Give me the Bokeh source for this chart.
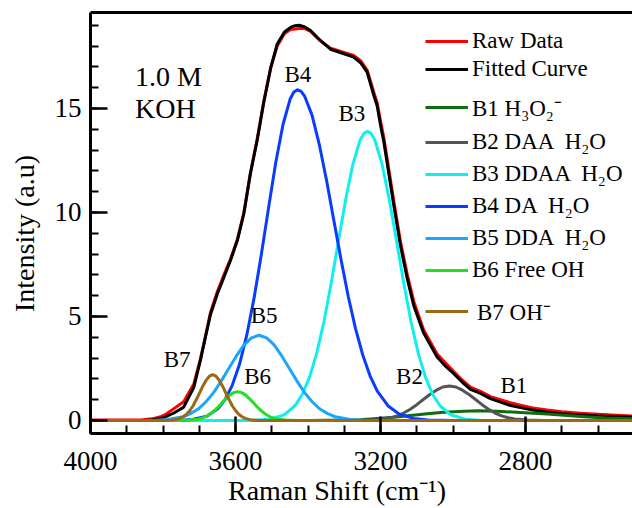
import math
from bokeh.plotting import figure
from bokeh.models import (Range1d, SingleIntervalTicker, LinearAxis, FixedTicker,
                          Legend, LegendItem)
from bokeh.core.properties import value
from bokeh.embed import file_html
from bokeh.resources import INLINE

FONT = "Liberation Serif"

# ---------------- data ----------------
raw_x = [4000, 3860, 3830, 3807, 3790, 3770, 3743, 3715, 3697, 3683,
         3669, 3650, 3632, 3614, 3595, 3577, 3559, 3540, 3522, 3503,
         3485, 3465, 3448, 3425, 3410, 3393, 3366, 3338, 3301, 3274,
         3255, 3237, 3218, 3209, 3200, 3191, 3181, 3163, 3145, 3126,
         3108, 3081, 3044, 3020, 2998, 2975, 2952, 2924, 2897, 2869,
         2841, 2814, 2780, 2740, 2700, 2648, 2600, 2550, 2505]
raw_y = [0.02, 0.03, 0.08, 0.18, 0.32, 0.57, 0.9, 1.75, 2.95, 4.05,
         5.2, 6.2, 7.0, 7.75, 8.7, 10.0, 11.9, 13.55, 15.35, 16.95,
         18.0, 18.6, 18.8, 18.85, 18.85, 18.7, 18.25, 17.9, 17.7, 17.55,
         17.3, 16.85, 15.75, 15.25, 14.4, 13.6, 12.5, 10.5, 8.6, 7.0,
         5.7, 4.35, 3.2, 2.75, 2.35, 1.95, 1.6, 1.4, 1.15, 1.0,
         0.85, 0.74, 0.6, 0.5, 0.42, 0.35, 0.3, 0.25, 0.22]

fit_x = [4000, 3860, 3830, 3800, 3770, 3743, 3715, 3697, 3683,
         3669, 3650, 3632, 3614, 3595, 3577, 3559, 3540, 3522, 3503,
         3485, 3465, 3448, 3436, 3425, 3410, 3393, 3366, 3338, 3301, 3274,
         3255, 3237, 3218, 3209, 3200, 3191, 3181, 3163, 3145, 3126,
         3108, 3081, 3044, 3020, 2998, 2975, 2952, 2924, 2897, 2869,
         2841, 2814, 2780, 2740, 2700, 2648, 2600, 2550, 2505]
fit_y = [0.0, 0.0, 0.02, 0.12, 0.36, 0.64, 1.6, 2.88, 4.0,
         5.1, 6.09, 6.89, 7.69, 8.65, 9.94, 11.86, 13.5, 15.3, 16.95,
         18.1, 18.68, 18.9, 18.98, 19.0, 18.93, 18.75, 18.27, 17.85, 17.63, 17.47,
         17.2, 16.75, 15.6, 15.1, 14.2, 13.4, 12.3, 10.3, 8.4, 6.8,
         5.5, 4.2, 3.05, 2.6, 2.25, 1.85, 1.5, 1.3, 1.05, 0.88,
         0.72, 0.62, 0.5, 0.40, 0.33, 0.27, 0.22, 0.19, 0.16]

b1_x = [4000, 3400, 3300, 3255, 3164, 3071, 3026, 2970, 2930, 2880,
        2814, 2740, 2648, 2580, 2505]
b1_y = [0, 0, 0.02, 0.04, 0.16, 0.32, 0.40, 0.45, 0.47, 0.45,
        0.38, 0.31, 0.19, 0.12, 0.08]

b2_x = [4000, 3300, 3226, 3190, 3172, 3154, 3136, 3118, 3100, 3082,
        3064, 3046, 3028, 3010, 2992, 2974, 2956, 2938, 2920, 2902,
        2884, 2866, 2848, 2830, 2794, 2750, 2500]
b2_y = [0, 0, 0.02, 0.07, 0.13, 0.22, 0.36, 0.54, 0.76, 1.01,
        1.25, 1.46, 1.61, 1.66, 1.61, 1.46, 1.25, 1.01, 0.76, 0.54,
        0.36, 0.22, 0.13, 0.07, 0.02, 0, 0]

b3_x = [4000, 3560, 3506, 3466, 3436, 3416, 3396, 3376, 3356, 3336,
        3316, 3296, 3276, 3256, 3246, 3236, 3226, 3216, 3196, 3176,
        3156, 3136, 3116, 3096, 3076, 3056, 3036, 3006, 2966, 2920, 2500]
b3_y = [0, 0, 0.06, 0.27, 0.71, 1.25, 2.07, 3.24, 4.76, 6.61,
        8.64, 10.64, 12.34, 13.5, 13.8, 13.9, 13.8, 13.5, 12.34, 10.64,
        8.64, 6.61, 4.76, 3.24, 2.07, 1.25, 0.71, 0.27, 0.06, 0, 0]

b4_x = [4000, 3760, 3719, 3679, 3649, 3629, 3609, 3589, 3569, 3549,
        3529, 3509, 3489, 3469, 3449, 3439, 3429, 3419, 3409, 3389,
        3369, 3349, 3329, 3309, 3289, 3269, 3249, 3229, 3209, 3179,
        3149, 3109, 3069, 3000, 2500]
b4_y = [0, 0, 0.05, 0.21, 0.56, 1.0, 1.69, 2.7, 4.1, 5.87,
        7.96, 10.21, 12.4, 14.23, 15.47, 15.79, 15.9, 15.82, 15.58, 14.68,
        13.28, 11.55, 9.64, 7.74, 5.96, 4.42, 3.15, 2.15, 1.41, 0.70,
        0.31, 0.1, 0.03, 0, 0]

b5_x = [4000, 3830, 3787, 3745, 3724, 3703, 3682, 3661, 3640, 3619,
        3598, 3577, 3556, 3535, 3514, 3493, 3472, 3451, 3430, 3409,
        3388, 3367, 3346, 3325, 3283, 3240, 2500]
b5_y = [0, 0, 0.05, 0.18, 0.33, 0.55, 0.89, 1.33, 1.88, 2.49,
        3.09, 3.62, 3.97, 4.1, 3.97, 3.62, 3.09, 2.49, 1.88, 1.33,
        0.89, 0.55, 0.33, 0.18, 0.05, 0, 0]

b6_x = [4000, 3760, 3726, 3704, 3693, 3682, 3671, 3660, 3649, 3638,
        3627, 3616, 3605, 3594, 3583, 3572, 3561, 3550, 3539, 3528,
        3517, 3506, 3495, 3484, 3462, 3430, 2500]
b6_y = [0, 0, 0.02, 0.06, 0.11, 0.19, 0.30, 0.45, 0.63, 0.84,
        1.04, 1.22, 1.34, 1.38, 1.34, 1.22, 1.04, 0.84, 0.63, 0.45,
        0.30, 0.19, 0.11, 0.06, 0.02, 0, 0]

b7_x = [4000, 3800, 3771, 3753, 3744, 3735, 3726, 3717, 3708, 3699,
        3690, 3681, 3672, 3663, 3654, 3645, 3636, 3627, 3618, 3609,
        3600, 3591, 3582, 3573, 3555, 3530, 2500]
b7_y = [0, 0, 0.02, 0.10, 0.18, 0.30, 0.48, 0.71, 1.01, 1.33,
        1.66, 1.94, 2.13, 2.2, 2.13, 1.94, 1.66, 1.33, 1.01, 0.71,
        0.48, 0.30, 0.18, 0.10, 0.02, 0, 0]

legend_labels = ["Raw Data", "Fitted Curve", "B1 H\u2083O\u2082\u207b",
                 "B2 DAA  H\u2082O", "B3 DDAA  H\u2082O", "B4 DA  H\u2082O",
                 "B5 DDA  H\u2082O", "B6 Free OH", "B7 OH\u207b"]
band_names = ["B1", "B2", "B3", "B4", "B5", "B6", "B7"]
sample_text = ["1.0 M", "KOH"]
x_title = "Raman Shift (cm\u207b\u00b9)"
y_title = "Intensity (a.u)"
x_ticks_interval = 400
y_ticks_interval = 5

# ---------------- styling / annotation positions ----------------
colors = ["#ff0000", "#000000", "#0e6b0e", "#555555", "#10eef0",
          "#0a3cff", "#1aa6ff", "#22e022", "#9c6812"]
band_label_x = [2832, 3120, 3279, 3428, 3521, 3539, 3761]
band_label_y = [1.68, 2.12, 14.76, 16.63, 5.05, 2.12, 2.93]
NB = "\u00a0"

p = figure(width=632, height=508, output_backend="svg", toolbar_location=None,
           x_range=Range1d(4000, 2505), y_range=Range1d(-0.625, 19.615),
           x_axis_location=None, y_axis_location=None,
           min_border_left=90, min_border_right=0, min_border_top=12,
           min_border_bottom=75)
p.outline_line_color = None
p.xgrid.grid_line_color = None
p.ygrid.grid_line_color = None
p.background_fill_color = "white"
p.border_fill_color = "white"

xaxis = LinearAxis(ticker=SingleIntervalTicker(interval=x_ticks_interval, num_minor_ticks=4))
yaxis = LinearAxis(ticker=SingleIntervalTicker(interval=y_ticks_interval, num_minor_ticks=5))
for ax, std in ((xaxis, 18), (yaxis, 9)):
    ax.axis_line_width = 3
    ax.axis_line_color = "black"
    ax.major_tick_in = 17
    ax.major_tick_out = 0
    ax.minor_tick_in = 8
    ax.minor_tick_out = 0
    ax.major_tick_line_width = 2.5
    ax.minor_tick_line_width = 2
    ax.major_tick_line_color = "black"
    ax.minor_tick_line_color = "black"
    ax.major_label_text_font = FONT
    ax.major_label_text_font_size = "27px"
    ax.major_label_text_color = "black"
    ax.major_label_standoff = std
    ax.axis_label_text_font = FONT
    ax.axis_label_text_font_size = "28px"
    ax.axis_label_text_font_style = "normal"
    ax.axis_label_text_color = "black"
xaxis.axis_label = x_title + NB * 7
xaxis.axis_label_standoff = 2
yaxis.axis_label = y_title + NB * 3
yaxis.axis_label_standoff = 12
p.add_layout(xaxis, "below")
p.add_layout(yaxis, "left")
top = LinearAxis(ticker=FixedTicker(ticks=[]), major_label_text_font_size="0px",
                 axis_line_width=3, axis_line_color="black",
                 major_tick_in=0, major_tick_out=0, minor_tick_in=0, minor_tick_out=0)
p.add_layout(top, "above")

series = [(raw_x, raw_y), (fit_x, fit_y), (b1_x, b1_y), (b2_x, b2_y), (b3_x, b3_y),
          (b4_x, b4_y), (b5_x, b5_y), (b6_x, b6_y), (b7_x, b7_y)]
renderers = []
for (xs, ys), c in zip(series, colors):
    r = p.line(xs, ys, line_color=c, line_width=3, line_join="round")
    renderers.append(r)

def make_legend(idx, loc, spacing, standoff=4):
    items = [LegendItem(label=legend_labels[i], renderers=[renderers[i]]) for i in idx]
    lg = Legend(items=items, location=loc, spacing=spacing, padding=0, margin=0,
                glyph_width=43, glyph_height=26, label_height=26,
                label_standoff=standoff,
                label_text_font=FONT, label_text_font_size="23px",
                label_text_color="black",
                border_line_color=None, background_fill_alpha=0)
    p.add_layout(lg, "center")

make_legend([0, 1], (335, 351), 2)
make_legend([2, 3, 4, 5, 6, 7], (335, 150), 6)
make_legend([8], (335, 106), 0, standoff=9)

p.text(x=band_label_x, y=band_label_y, text=band_names,
       text_font=value(FONT), text_font_size="23px", text_color="black",
       text_align="center", text_baseline="middle")
p.text(x=[3877, 3877], y=[16.56, 14.98], text=sample_text,
       text_font=value(FONT), text_font_size="28px", text_color="black",
       text_align="left", text_baseline="middle")

open("out.html", "w").write(file_html(p, INLINE))
